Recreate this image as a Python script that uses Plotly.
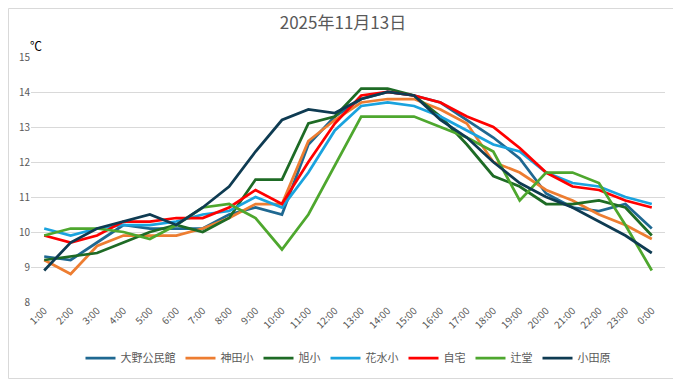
import plotly.graph_objects as go

hours = ["1:00","2:00","3:00","4:00","5:00","6:00","7:00","8:00","9:00","10:00","11:00","12:00",
         "13:00","14:00","15:00","16:00","17:00","18:00","19:00","20:00","21:00","22:00","23:00","0:00"]

ono = [9.3, 9.2, 9.7, 10.2, 10.1, 10.1, 10.1, 10.5, 10.7, 10.5, 12.5, 13.3,
       13.8, 14.0, 13.9, 13.7, 13.2, 12.7, 12.1, 11.1, 10.7, 10.6, 10.8, 10.1]
kanda = [9.2, 8.8, 9.6, 9.9, 9.9, 9.9, 10.1, 10.4, 10.8, 10.8, 12.6, 13.2,
         13.7, 13.8, 13.8, 13.5, 13.1, 12.0, 11.7, 11.2, 10.9, 10.5, 10.2, 9.8]
asahi = [9.2, 9.3, 9.4, 9.7, 10.0, 10.2, 10.0, 10.4, 11.5, 11.5, 13.1, 13.3,
         14.1, 14.1, 13.9, 13.3, 12.5, 11.6, 11.3, 10.8, 10.8, 10.9, 10.7, 9.9]
hanamizu = [10.1, 9.9, 10.1, 10.2, 10.2, 10.3, 10.5, 10.6, 11.0, 10.7, 11.7, 12.9,
            13.6, 13.7, 13.6, 13.3, 12.9, 12.5, 12.3, 11.7, 11.4, 11.3, 11.0, 10.8]
jitaku = [9.9, 9.7, 9.9, 10.3, 10.3, 10.4, 10.4, 10.7, 11.2, 10.8, 12.0, 13.1,
          13.9, 14.0, 13.9, 13.7, 13.3, 13.0, 12.4, 11.7, 11.3, 11.2, 10.9, 10.7]
tsujido = [9.9, 10.1, 10.1, 10.0, 9.8, 10.2, 10.7, 10.8, 10.4, 9.5, 10.5, 11.9,
           13.3, 13.3, 13.3, 13.0, 12.7, 12.3, 10.9, 11.7, 11.7, 11.4, 10.2, 8.9]
odawara = [8.9, 9.7, 10.1, 10.3, 10.5, 10.2, 10.7, 11.3, 12.3, 13.2, 13.5, 13.4,
           13.8, 14.0, 13.9, 13.2, 12.7, 12.0, 11.4, 11.0, 10.7, 10.3, 9.9, 9.4]

names = ["大野公民館", "神田小", "旭小", "花水小", "自宅", "辻堂", "小田原"]
series = [ono, kanda, asahi, hanamizu, jitaku, tsujido, odawara]
colors = ["#1F6891", "#ED7D31", "#1E6B25", "#1AA3DE", "#FF0000", "#4EA72E", "#0E3B52"]

FONT = "Noto Sans CJK JP, Noto Sans, sans-serif"

fig = go.Figure()
for n, s, c in zip(names, series, colors):
    fig.add_trace(go.Scatter(x=hours, y=s, name=n, mode="lines",
                             line=dict(color=c, width=2.75)))

OFF = 8  # page body margin offset
W, H = 681 - OFF, 379 - OFF
L, R, T, B = 31 - OFF, 16, 57 - OFF, 77
pw, ph = W - L - R, H - T - B

fig.update_layout(
    width=W, height=H,
    margin=dict(l=L, r=R, t=T, b=B, autoexpand=False),
    paper_bgcolor="white", plot_bgcolor="white",
    font=dict(family=FONT, color="#595959", size=10),
    title=dict(text="2025年11月13日", x=(343 - OFF) / W, xanchor="center", y=1 - (23 - OFF) / H,
               yanchor="middle", automargin=False,
               font=dict(size=17, color="#595959", family=FONT)),
    xaxis=dict(type="category", range=[-0.5, 23.5], tickangle=-45, showgrid=False, automargin=False,
               showline=False, ticks="", tickfont=dict(size=10, color="#595959")),
    yaxis=dict(range=[8, 15], dtick=1, showgrid=True, gridcolor="#D9D9D9", gridwidth=1,
               automargin=False, zeroline=False, showline=False, ticks="",
               tickfont=dict(size=10, color="#595959")),
    legend=dict(orientation="h", x=0.5, xanchor="center", y=-(358 - 302) / ph, yanchor="middle",
                font=dict(size=11, color="#595959"), itemwidth=30, tracegroupgap=0),
    showlegend=True,
)

fig.add_annotation(text="℃", xref="paper", yref="paper", x=(36 - 31) / pw, y=1 + (57 - 45) / ph,
                   showarrow=False, xanchor="center", yanchor="middle",
                   font=dict(size=12, color="#000000", family=FONT))

fig.add_shape(type="rect", xref="paper", yref="paper",
              x0=-(L - 0.5) / pw, x1=1 + (R - 0.5) / pw, y0=-(B - 0.5) / ph, y1=1 + (T - 0.5) / ph,
              line=dict(color="#D9D9D9", width=1), fillcolor="rgba(0,0,0,0)", layer="below")

fig.write_html("out.html")
